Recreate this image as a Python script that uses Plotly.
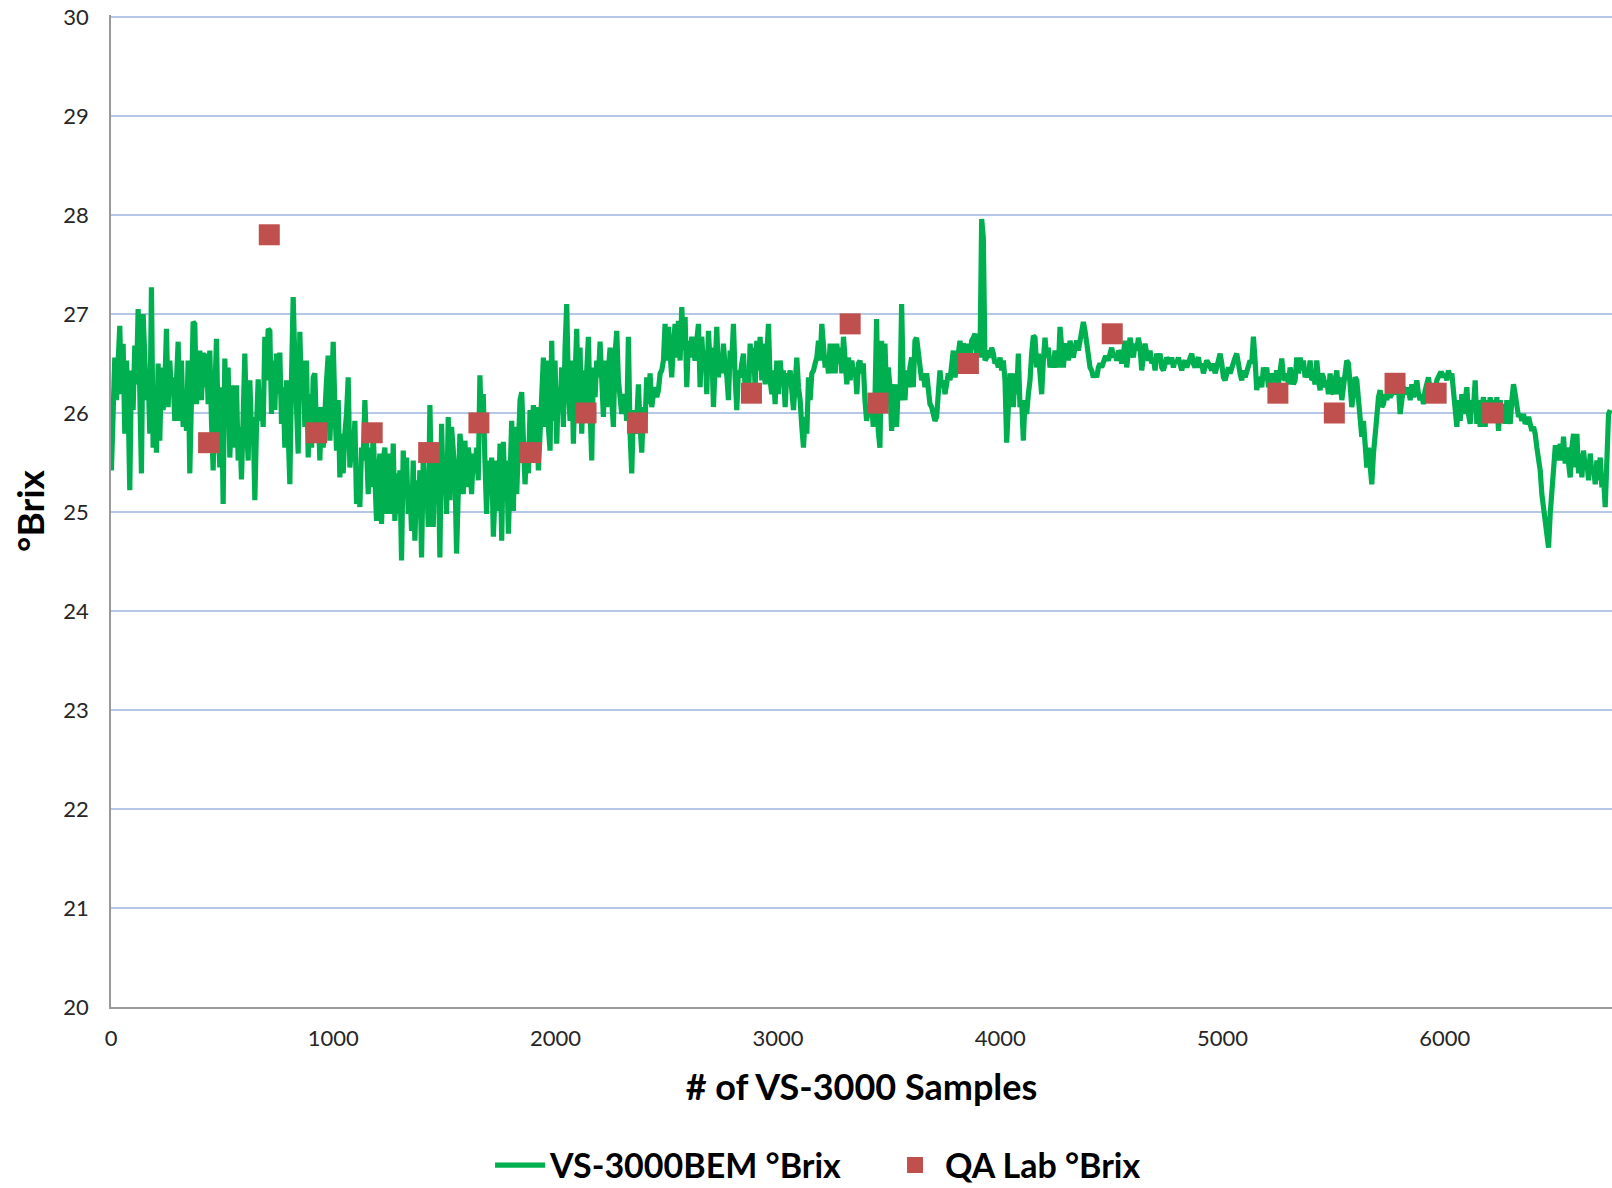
import plotly.graph_objects as go

# ---------------- data ----------------
# VS-3000BEM online readings (°Brix) in four consecutive stretches;
# each stretch starts at the given sample number, readings every 7.5 samples
seg_starts = [2, 1697.5, 3369, 5034]
sample_step = 7.5

brix_a = [25.42, 25.99, 26.56, 26.13, 26.56, 26.88, 26.19, 26.70, 25.79, 26.53, 26.13, 25.22, 26.43, 26.03, 26.68, 26.29,
          27.05, 26.03, 25.39, 27.00, 26.43, 26.13, 26.40, 25.79, 27.27, 25.65, 26.19, 25.60, 26.50, 25.72, 26.46, 26.03,
          26.26, 26.85, 26.06, 26.53, 26.19, 26.36, 25.92, 26.50, 26.72, 25.92, 26.53, 25.86, 26.19, 25.82, 26.53, 25.39,
          26.43, 26.92, 26.90, 26.09, 26.36, 26.63, 26.13, 26.61, 26.26, 26.60, 26.09, 26.63, 25.92, 25.42, 26.19, 26.75,
          25.86, 25.45, 26.26, 25.08, 26.55, 25.92, 26.46, 25.55, 26.06, 26.28, 25.65, 26.28, 25.52, 25.86, 25.33, 25.99,
          26.60, 25.89, 25.52, 26.33, 25.79, 25.96, 25.12, 25.86, 26.34, 25.92, 26.13, 25.86, 26.77, 26.33, 26.85, 26.83,
          25.99, 26.53, 26.03, 26.60, 26.19, 26.61, 25.89, 26.26, 25.65, 26.33, 25.86, 25.28, 26.36, 27.17, 26.53, 25.92,
          25.59, 26.82, 26.13, 26.53, 25.86, 26.53, 25.55, 26.19, 25.65, 26.36, 26.40, 25.79, 26.06, 25.52, 26.06, 25.65,
          26.19, 26.33, 26.58, 25.72, 26.13, 26.72, 26.06, 25.62, 26.13, 25.35, 25.79, 25.39, 25.79, 25.99, 26.36, 25.45,
          25.65, 25.52, 25.92, 25.08, 25.39, 25.05, 25.65, 25.52, 26.13, 25.39, 25.18, 25.65, 25.25, 25.79, 25.39, 24.91,
          25.35, 25.59, 24.88, 25.52, 25.65, 24.98, 25.35, 25.59, 24.98, 25.69, 24.91, 25.39, 24.98, 25.42, 24.51, 25.62,
          25.18, 25.55, 24.98, 25.25, 24.81, 25.52, 24.71, 25.32, 24.95, 25.42, 24.54, 25.52, 25.18, 25.39, 24.85, 26.08,
          25.18, 24.85, 25.65, 25.25, 25.52, 24.54, 25.89, 25.18, 25.52, 24.98, 25.96, 25.12, 25.86, 25.52, 25.39, 24.58,
          25.32, 25.79, 25.65, 25.18, 25.72, 25.25, 25.65, 25.52, 25.18, 25.59, 25.39, 25.65, 25.32, 26.38, 25.79, 26.19,
          25.52, 24.98]

brix_b = [25.52, 25.18, 25.55, 24.75, 25.18, 25.52, 25.01, 25.69, 24.71, 25.71, 25.12, 25.52, 24.78, 25.45, 25.92, 25.01,
          25.86, 25.18, 25.92, 26.13, 26.21, 25.52, 25.28, 25.65, 25.39, 26.03, 25.62, 26.08, 25.52, 26.06, 25.42, 25.79,
          26.09, 26.56, 25.86, 26.53, 25.86, 25.62, 26.73, 25.92, 26.53, 25.69, 26.26, 26.03, 26.46, 25.86, 26.66, 27.10,
          26.26, 25.92, 26.53, 25.69, 26.36, 26.85, 25.92, 26.66, 25.79, 26.43, 26.09, 26.53, 26.77, 26.03, 25.52, 26.46,
          26.16, 26.53, 26.36, 26.72, 26.13, 25.96, 26.53, 26.06, 26.43, 26.66, 26.13, 25.86, 26.60, 26.83, 26.33, 26.13,
          25.99, 26.19, 26.13, 25.92, 26.77, 25.79, 25.39, 26.03, 25.79, 25.92, 26.29, 25.86, 25.60, 26.06, 25.92, 26.36,
          26.09, 26.40, 26.06, 26.19, 26.26, 26.16, 26.23, 26.40, 26.43, 26.53, 26.90, 26.53, 26.87, 26.60, 26.36, 26.70,
          26.90, 26.56, 26.93, 26.53, 27.07, 26.63, 26.97, 26.26, 26.73, 26.56, 26.77, 26.63, 26.53, 26.73, 26.90, 26.26,
          26.77, 26.46, 26.63, 26.19, 26.83, 26.50, 26.66, 26.06, 26.53, 26.87, 26.36, 26.60, 26.40, 26.70, 26.46, 26.38,
          26.13, 26.63, 26.53, 26.90, 26.36, 26.03, 26.43, 26.36, 26.50, 26.60, 26.26, 26.40, 26.13, 26.70, 26.43, 26.66,
          26.26, 26.73, 26.43, 26.77, 26.33, 26.70, 26.29, 26.56, 26.90, 26.33, 26.19, 26.43, 26.09, 26.53, 26.19, 26.53,
          26.33, 26.43, 26.06, 26.40, 26.33, 26.43, 26.19, 26.03, 26.29, 26.56, 26.26, 26.13, 25.86, 25.65, 25.96, 25.79,
          26.36, 26.13, 26.40, 26.43, 26.50, 26.56, 26.73, 26.53, 26.90, 26.60, 26.46, 26.56, 26.40, 26.70, 26.40, 26.70,
          26.40, 26.70, 26.50, 26.66, 26.40, 26.77, 26.43, 26.29, 26.56, 26.33, 26.53, 26.40, 26.46, 26.19, 26.50]

brix_c = [26.53, 26.40, 26.50, 26.13, 25.92, 26.06, 25.96, 26.09, 25.86, 26.13, 26.95, 25.82, 25.65, 26.73, 26.13, 26.70,
          26.19, 26.46, 26.26, 25.82, 26.13, 26.29, 25.86, 26.29, 26.13, 27.10, 26.26, 26.13, 26.43, 26.26, 26.46, 26.56,
          26.26, 26.73, 26.76, 26.63, 26.40, 26.33, 26.40, 26.26, 26.40, 26.19, 26.09, 26.06, 25.99, 25.92, 25.96, 26.19,
          26.43, 26.26, 26.33, 26.19, 26.36, 26.40, 26.33, 26.53, 26.63, 26.36, 26.53, 26.60, 26.73, 26.56, 26.70, 26.66,
          26.56, 26.70, 26.53, 26.73, 26.76, 26.80, 26.60, 26.80, 26.56, 27.96, 27.77, 26.53, 26.56, 26.63, 26.56, 26.66,
          26.60, 26.50, 26.53, 26.46, 26.56, 26.43, 26.53, 26.33, 25.70, 25.99, 26.40, 26.26, 26.06, 26.40, 26.19, 26.60,
          26.06, 26.13, 25.72, 26.13, 25.99, 26.19, 26.33, 26.60, 26.78, 26.76, 26.46, 26.60, 26.40, 26.19, 26.53, 26.76,
          26.56, 26.66, 26.46, 26.56, 26.46, 26.63, 26.56, 26.46, 26.87, 26.60, 26.46, 26.66, 26.70, 26.53, 26.73, 26.63,
          26.56, 26.66, 26.73, 26.63, 26.76, 26.87, 26.92, 26.83, 26.70, 26.56, 26.46, 26.43, 26.36, 26.40, 26.36, 26.46,
          26.50, 26.46, 26.50, 26.56, 26.56, 26.53, 26.60, 26.66, 26.56, 26.60, 26.53, 26.63, 26.60, 26.50, 26.60, 26.73,
          26.46, 26.70, 26.76, 26.66, 26.56, 26.70, 26.63, 26.76, 26.66, 26.43, 26.56, 26.70, 26.60, 26.53, 26.63, 26.50,
          26.56, 26.43, 26.60, 26.53, 26.60, 26.46, 26.43, 26.50, 26.56, 26.53, 26.50, 26.56, 26.46, 26.53, 26.50, 26.56,
          26.46, 26.43, 26.50, 26.53, 26.46, 26.50, 26.56, 26.60, 26.50, 26.46, 26.53, 26.56, 26.46, 26.50, 26.40, 26.46,
          26.53, 26.50, 26.46, 26.43, 26.50, 26.40, 26.46, 26.53, 26.60, 26.50, 26.36, 26.33, 26.43, 26.46]

brix_d = [26.40, 26.46, 26.53, 26.56, 26.60, 26.46, 26.40, 26.33, 26.43, 26.36, 26.43, 26.46, 26.53, 26.50, 26.77, 26.53,
          26.23, 26.36, 26.33, 26.26, 26.46, 26.33, 26.46, 26.26, 26.33, 26.40, 26.26, 26.33, 26.43, 26.29, 26.40, 26.55,
          26.36, 26.33, 26.40, 26.29, 26.46, 26.36, 26.29, 26.33, 26.56, 26.40, 26.56, 26.43, 26.53, 26.36, 26.40, 26.36,
          26.53, 26.33, 26.36, 26.29, 26.53, 26.33, 26.23, 26.40, 26.36, 26.26, 26.33, 26.19, 26.40, 26.23, 26.19, 26.33,
          26.43, 26.19, 26.36, 26.13, 26.26, 26.43, 26.53, 26.50, 26.26, 26.06, 26.19, 26.36, 26.33, 26.13, 25.96, 25.76,
          25.92, 25.65, 25.45, 25.65, 25.39, 25.28, 25.59, 25.89, 25.96, 26.16, 26.23, 26.06, 26.09, 26.19, 26.13, 26.23,
          26.16, 26.19, 26.29, 26.19, 26.23, 26.26, 25.99, 26.19, 26.26, 26.23, 26.19, 26.26, 26.13, 26.29, 26.16, 26.23,
          26.33, 26.19, 26.13, 26.19, 26.09, 26.23, 26.33, 26.36, 26.23, 26.13, 26.26, 26.19, 26.33, 26.36, 26.40, 26.40,
          26.36, 26.40, 26.33, 26.43, 26.36, 26.40, 26.19, 26.03, 25.86, 26.13, 25.92, 26.19, 25.99, 26.13, 26.26, 25.99,
          25.89, 26.13, 26.06, 26.33, 25.89, 26.13, 25.86, 26.06, 26.16, 25.86, 26.13, 25.92, 26.16, 25.99, 26.13, 25.92,
          26.16, 25.82, 26.13, 25.92, 26.09, 25.89, 26.13, 26.03, 25.89, 26.13, 26.29, 26.19, 26.06, 25.96, 25.99, 25.92,
          25.99, 25.89, 25.92, 25.96, 25.89, 25.82, 25.86, 25.79, 25.65, 25.52, 25.42, 25.18, 25.05, 24.98, 24.75, 24.64,
          24.98, 25.25, 25.35, 25.65, 25.65, 25.52, 25.69, 25.52, 25.76, 25.49, 25.65, 25.52, 25.35, 25.65, 25.79, 25.45,
          25.79, 25.39, 25.59, 25.35, 25.62, 25.45, 25.52, 25.32, 25.59, 25.39, 25.45, 25.28, 25.52, 25.32, 25.55, 25.25,
          25.35, 25.05, 25.52, 25.99, 26.03]

# QA lab grab samples
qa_samples = [439, 712, 925, 1175, 1429, 1655, 1887, 2137, 2368, 2881, 3325, 3450, 3857, 4504, 5249, 5503, 5776, 5961, 6215]
qa_brix = [25.7, 27.8, 25.8, 25.8, 25.6, 25.9, 25.6, 26.0, 25.9, 26.2, 26.9, 26.1, 26.5, 26.8, 26.2, 26.0, 26.3, 26.2, 26.0]

y_ticks = [20, 21, 22, 23, 24, 25, 26, 27, 28, 29, 30]
x_ticks = [0, 1000, 2000, 3000, 4000, 5000, 6000]

# ---------------- build ----------------
vs_x, vs_y = [], []
for start, vals in zip(seg_starts, [brix_a, brix_b, brix_c, brix_d]):
    vs_x += [start + sample_step * i for i in range(len(vals))]
    vs_y += vals

FONT = "Lato"

fig = go.Figure()
fig.add_trace(go.Scatter(
    x=vs_x, y=vs_y, mode="lines", name="VS-3000BEM °Brix",
    line=dict(color="#00b050", width=5.2),
))
fig.add_trace(go.Scatter(
    x=qa_samples, y=qa_brix, mode="markers", name="QA Lab °Brix",
    marker=dict(symbol="square", size=21, color="#c0504d", line=dict(width=0)),
))

fig.update_layout(
    width=1612, height=1188,
    margin=dict(l=111, r=0, t=15, b=181, autoexpand=False),
    paper_bgcolor="white", plot_bgcolor="white",
    font=dict(family=FONT, color="#000000"),
    showlegend=True,
    legend=dict(
        orientation="h", xref="container", yref="container",
        x=0.304, xanchor="left", y=0.019, yanchor="middle",
        font=dict(family=FONT, size=34, color="#000000", weight="bold"),
        itemwidth=50, entrywidth=330, entrywidthmode="pixels",
        tracegroupgap=0, bgcolor="rgba(0,0,0,0)",
    ),
)

fig.update_xaxes(
    range=[0, 6752], tickmode="array", tickvals=x_ticks,
    ticktext=[str(v) for v in x_ticks],
    showgrid=False, zeroline=False, automargin=False,
    showline=True, linecolor="#9a9a9a", linewidth=1.5,
    ticks="", ticklabelstandoff=11,
    tickfont=dict(family=FONT, size=22, color="#262626"),
    title=dict(text="# of VS-3000 Samples", standoff=25,
               font=dict(family=FONT, size=36, color="#000000", weight="bold")),
)
fig.update_yaxes(
    range=[20, 30.02], tickmode="array", tickvals=y_ticks,
    ticktext=[str(v) for v in y_ticks],
    showgrid=True, gridcolor="#b4c7e7", gridwidth=2,
    zeroline=False, automargin=False,
    showline=True, linecolor="#9a9a9a", linewidth=1.5,
    ticks="", ticklabelstandoff=16, ticklabeloverflow="allow",
    tickfont=dict(family=FONT, size=22, color="#262626"),
    title=dict(text="°Brix", standoff=7,
               font=dict(family=FONT, size=37, color="#000000", weight="bold")),
)

fig.write_html("out.html", config={"displayModeBar": False},
               post_script="document.body.style.margin='0';")
